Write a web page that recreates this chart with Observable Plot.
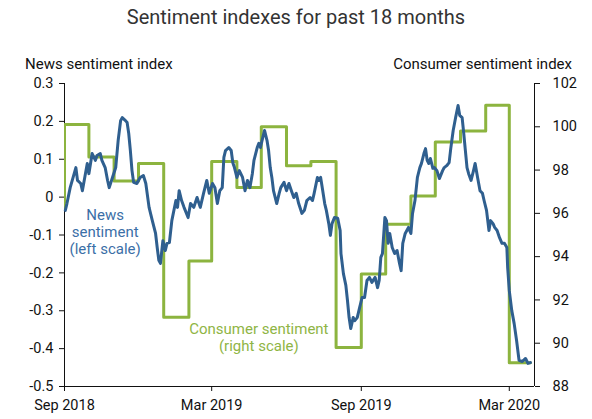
<!DOCTYPE html>
<html>
<head>
<meta charset="utf-8">
<script src="https://cdn.jsdelivr.net/npm/d3@7"></script>
<script src="https://cdn.jsdelivr.net/npm/@observablehq/plot@0.6"></script>
<style>
  body { margin: 0; background: #fff; font-family: Roboto, sans-serif; }
  #wrap { width: 592px; }
  #title { height: 34px; line-height: 34px; text-align: center; font-size: 20px; color: #333; }
  #axes { position: relative; height: 40px; font-size: 15px; color: #111; }
  #axes span { position: absolute; top: 20px; line-height: 20px; white-space: nowrap; }
  #chart svg { display: block; }
</style>
</head>
<body>
<div id="wrap">
  <div id="title">Sentiment indexes for past 18 months</div>
  <div id="axes"><span id="lt" style="left:25px">News sentiment index</span><span id="rt" style="right:20px">Consumer sentiment index</span></div>
  <div id="chart"></div>
</div>
<script>
// ---- Data ----
const newsDates = ["2018-09-02","2018-09-04","2018-09-08","2018-09-15","2018-09-17","2018-09-21","2018-09-23","2018-09-27","2018-09-29","2018-10-01","2018-10-05","2018-10-09","2018-10-11","2018-10-15","2018-10-17","2018-10-21","2018-10-24","2018-10-26","2018-10-30","2018-11-03","2018-11-06","2018-11-09","2018-11-11","2018-11-15","2018-11-17","2018-11-19","2018-11-21","2018-11-23","2018-11-25","2018-11-29","2018-12-03","2018-12-07","2018-12-10","2018-12-14","2018-12-18","2018-12-22","2018-12-24","2018-12-26","2018-12-28","2018-12-31",
"2019-01-03","2019-01-05","2019-01-08","2019-01-11","2019-01-16","2019-01-18","2019-01-20","2019-01-23","2019-01-26","2019-01-29","2019-01-31","2019-02-03","2019-02-07","2019-02-11","2019-02-15","2019-02-19","2019-02-23","2019-02-26","2019-03-02","2019-03-05","2019-03-08","2019-03-11","2019-03-14","2019-03-16","2019-03-18","2019-03-22","2019-03-25","2019-03-27","2019-03-29","2019-04-01","2019-04-04","2019-04-08","2019-04-11","2019-04-14","2019-04-17","2019-04-20","2019-04-22","2019-04-26","2019-04-28","2019-04-30",
"2019-05-02","2019-05-05","2019-05-08","2019-05-10","2019-05-12","2019-05-14","2019-05-16","2019-05-20","2019-05-23","2019-05-25","2019-05-29","2019-06-01","2019-06-04","2019-06-07","2019-06-10","2019-06-13","2019-06-16","2019-06-20","2019-06-23","2019-06-26","2019-06-30","2019-07-03","2019-07-05","2019-07-09","2019-07-11","2019-07-13","2019-07-15","2019-07-18","2019-07-20","2019-07-23","2019-07-25","2019-07-27","2019-07-30","2019-08-03","2019-08-06","2019-08-07","2019-08-10","2019-08-13","2019-08-15","2019-08-17",
"2019-08-19","2019-08-22","2019-08-24","2019-08-27","2019-08-30","2019-09-02","2019-09-05","2019-09-08","2019-09-11","2019-09-14","2019-09-18","2019-09-21","2019-09-23","2019-09-25","2019-09-27","2019-09-30","2019-10-02","2019-10-04","2019-10-06","2019-10-09","2019-10-12","2019-10-15","2019-10-18","2019-10-20","2019-10-22","2019-10-25","2019-10-27","2019-10-29","2019-11-01","2019-11-03","2019-11-06","2019-11-09","2019-11-12","2019-11-14","2019-11-17","2019-11-19","2019-11-21","2019-11-23","2019-11-25","2019-11-28",
"2019-11-30","2019-12-03","2019-12-06","2019-12-10","2019-12-12","2019-12-15","2019-12-18","2019-12-20","2019-12-23","2019-12-26","2019-12-29","2019-12-31","2020-01-03","2020-01-05","2020-01-07","2020-01-09","2020-01-11","2020-01-14","2020-01-17","2020-01-19","2020-01-22","2020-01-25","2020-01-28","2020-01-30","2020-02-02","2020-02-05","2020-02-07","2020-02-10","2020-02-12","2020-02-15","2020-02-18","2020-02-21","2020-02-24","2020-02-27","2020-02-28","2020-03-01","2020-03-04","2020-03-07","2020-03-10","2020-03-13","2020-03-17","2020-03-21","2020-03-24","2020-03-27"];
const newsValues = [-0.035,-0.017,0.025,0.078,0.044,0.036,0.017,0.065,0.089,0.062,0.115,0.097,0.110,0.115,0.097,0.078,0.044,0.025,0.052,0.078,0.150,0.202,0.210,0.202,0.197,0.168,0.123,0.070,0.039,0.036,0.052,0.057,0.036,-0.027,-0.062,-0.096,-0.133,-0.167,-0.175,-0.115,
-0.141,-0.122,-0.120,-0.062,-0.009,-0.027,0.017,-0.009,-0.027,-0.043,-0.054,-0.017,-0.027,-0.001,-0.027,0.010,0.044,0.010,0.036,0.025,-0.017,0.017,0.025,0.105,0.123,0.131,0.123,0.091,0.078,0.052,0.070,0.052,0.017,0.044,0.025,0.062,0.097,0.131,0.142,0.131,
0.150,0.176,0.150,0.123,0.078,0.052,0.017,-0.017,0.010,0.025,0.039,0.017,0.036,0.017,-0.001,0.010,-0.017,-0.043,-0.035,-0.009,-0.001,-0.009,0.010,0.052,0.044,0.052,0.025,-0.017,-0.035,-0.070,-0.101,-0.070,-0.054,-0.056,-0.088,-0.149,-0.202,-0.233,-0.273,-0.318,
-0.347,-0.318,-0.326,-0.318,-0.291,-0.265,-0.265,-0.220,-0.212,-0.225,-0.212,-0.239,-0.220,-0.159,-0.149,-0.054,-0.062,-0.122,-0.096,-0.133,-0.149,-0.141,-0.175,-0.194,-0.122,-0.096,-0.088,-0.080,-0.096,-0.043,-0.009,0.052,0.078,0.089,0.115,0.128,0.097,0.089,0.102,0.076,
0.078,0.070,0.049,0.070,0.078,0.083,0.091,0.128,0.176,0.210,0.242,0.216,0.210,0.168,0.123,0.078,0.062,0.044,0.070,0.089,0.052,0.017,0.010,-0.009,-0.035,-0.088,-0.062,-0.070,-0.080,-0.088,-0.107,-0.122,-0.122,-0.133,-0.186,-0.247,-0.299,-0.334,-0.379,-0.431,-0.434,-0.426,-0.439,-0.437];

const consumerDates = ["2018-08-01","2018-09-01","2018-10-01","2018-11-01","2018-12-01","2019-01-01","2019-02-01","2019-03-01","2019-04-01","2019-05-01","2019-06-01","2019-07-01","2019-08-01","2019-09-01","2019-10-01","2019-11-01","2019-12-01","2020-01-01","2020-02-01","2020-03-01","2020-03-27"];
const consumerValues = [96.2,100.1,98.6,97.5,98.3,91.2,93.8,98.4,97.2,100.0,98.2,98.4,89.8,93.2,95.5,96.8,99.3,99.8,101.0,89.1,89.1];

const xDomain = ["2018-09-01","2020-04-01"];
const xTicks = ["2018-09-01","2019-03-01","2019-09-01","2020-03-01"];
const leftDomain = [-0.5, 0.3];
const leftTicks = [-0.5,-0.4,-0.3,-0.2,-0.1,0,0.1,0.2,0.3];
const rightDomain = [88, 102];
const rightTicks = [88,90,92,94,96,98,100,102];

const labelTexts = ["News\nsentiment\n(left scale)", "Consumer sentiment\n(right scale)"];
const labelDates = ["2018-10-21", "2019-04-28"];
const labelLeftValues = [-0.091, null];
const labelRightValues = [null, 90.29];

// ---- Build ----
const parse = d3.utcParse("%Y-%m-%d");
const toLeft = c => leftDomain[0] + (c - rightDomain[0]) * (leftDomain[1] - leftDomain[0]) / (rightDomain[1] - rightDomain[0]);
const fromLeft = v => rightDomain[0] + (v - leftDomain[0]) * (rightDomain[1] - rightDomain[0]) / (leftDomain[1] - leftDomain[0]);

const news = newsDates.map((d, i) => ({date: parse(d), value: newsValues[i]}));
const consumer = consumerDates.map((d, i) => ({date: parse(d), value: toLeft(consumerValues[i])}));
const xd = xDomain.map(parse);

const blue = "#2f5f8f", green = "#8cb43f";

const chart = Plot.plot({
  width: 592,
  height: 345,
  marginTop: 9,
  marginBottom: 33,
  marginLeft: 64,
  marginRight: 58,
  style: {fontFamily: "Roboto, sans-serif", fontSize: "14.5px", color: "#111", background: "#fff", overflow: "visible"},
  x: {type: "utc", domain: xd},
  y: {domain: leftDomain},
  marks: [
    Plot.ruleY([leftDomain[0]], {stroke: "#111"}),
    Plot.ruleX([xd[0]], {stroke: "#111"}),
    Plot.ruleX([xd[1]], {stroke: "#111"}),
    Plot.axisX(xTicks.map(parse), {tickFormat: d3.utcFormat("%b %Y"), tickSize: 5, tickPadding: 8, label: null}),
    Plot.axisY(leftTicks, {anchor: "left", tickFormat: d => d === 0 ? "0" : d.toFixed(1), tickSize: 5, tickPadding: 6, label: null}),
    Plot.axisY(rightTicks.map(toLeft), {anchor: "right", tickFormat: d => String(Math.round(fromLeft(d))), tickSize: 5, tickPadding: 13, label: null}),
    Plot.line(consumer, {x: "date", y: "value", curve: "step-after", stroke: green, strokeWidth: 3, clip: true}),
    Plot.line(news, {x: "date", y: "value", stroke: blue, strokeWidth: 3, strokeLinejoin: "round"}),
    Plot.text([0], {x: () => parse(labelDates[0]), y: () => labelLeftValues[0], text: () => labelTexts[0], fill: "#3b6fa7", fontSize: 15, lineHeight: 1.13, textAnchor: "middle", lineAnchor: "middle"}),
    Plot.text([1], {x: () => parse(labelDates[1]), y: () => toLeft(labelRightValues[1]), text: () => labelTexts[1], fill: "#8fb545", fontSize: 15, lineHeight: 1.13, textAnchor: "middle", lineAnchor: "middle"})
  ]
});
document.getElementById("chart").appendChild(chart);
</script>
</body>
</html>
